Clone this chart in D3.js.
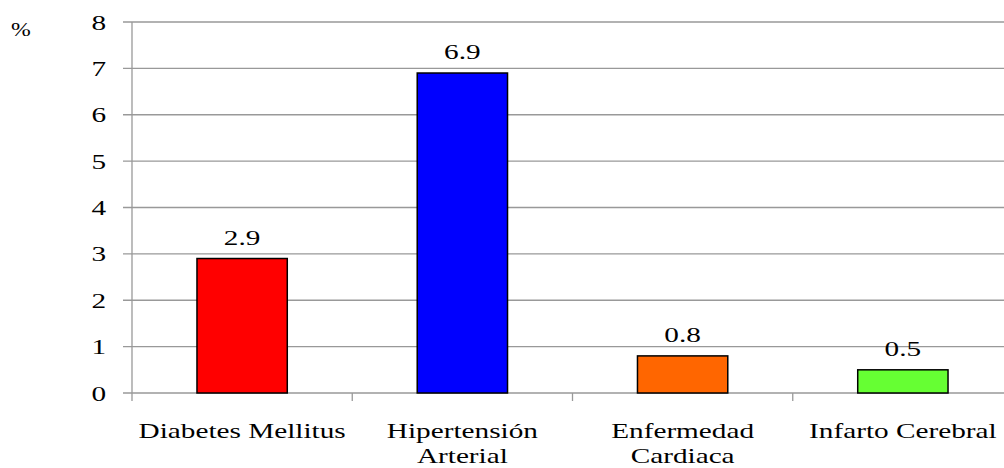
<!DOCTYPE html>
<html>
<head>
<meta charset="utf-8">
<script src="https://cdn.jsdelivr.net/npm/d3@7"></script>
<style>
  html, body { margin: 0; padding: 0; background: #fff; }
  svg { display: block; }
  text { font-family: "Liberation Serif", "Times New Roman", serif; fill: #000; }
</style>
</head>
<body>
<svg id="chart" width="1004" height="468"></svg>
<script>
const categories = ["Diabetes Mellitus", "Hipertensión Arterial", "Enfermedad Cardiaca", "Infarto Cerebral"];
const labelLines = [["Diabetes Mellitus"], ["Hipertensión", "Arterial"], ["Enfermedad", "Cardiaca"], ["Infarto Cerebral"]];
const values = [2.9, 6.9, 0.8, 0.5];
const colors = ["#FF0000", "#0000FF", "#FF6600", "#66FF33"];
const yTicks = [0, 1, 2, 3, 4, 5, 6, 7, 8];
const yUnit = "%";

(function () {
const svg = d3.select("#chart");
const pLeft = 132, pRight = 1013, pTop = 22, pBottom = 393;
const sx = 1.33, fs = 22;

const x = d3.scaleBand().domain(categories).range([pLeft, pRight]).paddingInner(0.59).paddingOuter(0.295);
const y = d3.scaleLinear().domain([0, 8]).range([pBottom, pTop]);
const grid = "#999999";

// gridlines
svg.append("g").selectAll("line").data(yTicks).join("line")
  .attr("x1", pLeft - 9).attr("x2", 1004)
  .attr("y1", d => y(d)).attr("y2", d => y(d))
  .attr("stroke", grid).attr("stroke-width", 1.3);

// y axis line
svg.append("line").attr("x1", pLeft).attr("x2", pLeft).attr("y1", pTop).attr("y2", pBottom + 8)
  .attr("stroke", grid).attr("stroke-width", 1.3);

// x ticks at band boundaries
const bounds = categories.map(c => x(c) - x.step() * x.paddingInner() / 2).slice(1);
svg.append("g").selectAll("line").data(bounds).join("line")
  .attr("x1", d => d).attr("x2", d => d).attr("y1", pBottom).attr("y2", pBottom + 8)
  .attr("stroke", grid).attr("stroke-width", 1.3);

// y tick labels
svg.append("g").selectAll("text").data(yTicks).join("text")
  .attr("transform", d => `translate(106,${y(d) + 7.5}) scale(${sx},1)`)
  .attr("text-anchor", "end").attr("font-size", fs).text(d => d);

// unit
svg.append("text").attr("transform", `translate(11,36) scale(1.25,1)`).attr("font-size", 19).text(yUnit);

// bars
svg.append("g").selectAll("rect").data(values).join("rect")
  .attr("x", (d, i) => x(categories[i]))
  .attr("width", x.bandwidth())
  .attr("y", d => y(d))
  .attr("height", d => y(0) - y(d))
  .attr("fill", (d, i) => colors[i])
  .attr("stroke", "#000").attr("stroke-width", 1.5);

// value labels
svg.append("g").selectAll("text").data(values).join("text")
  .attr("transform", (d, i) => `translate(${x(categories[i]) + x.bandwidth() / 2},${y(d) - 14}) scale(${sx},1)`)
  .attr("text-anchor", "middle").attr("font-size", fs).text(d => d.toFixed(1));

// category labels
const cl = svg.append("g").selectAll("g").data(categories).join("g");
cl.each(function (c, i) {
  const g = d3.select(this);
  labelLines[i].forEach((line, j) => {
    g.append("text")
      .attr("transform", `translate(${x(c) + x.bandwidth() / 2},${pBottom + 45 + j * 25}) scale(${sx},1)`)
      .attr("text-anchor", "middle").attr("font-size", fs).text(line);
  });
});
})();
</script>
</body>
</html>
